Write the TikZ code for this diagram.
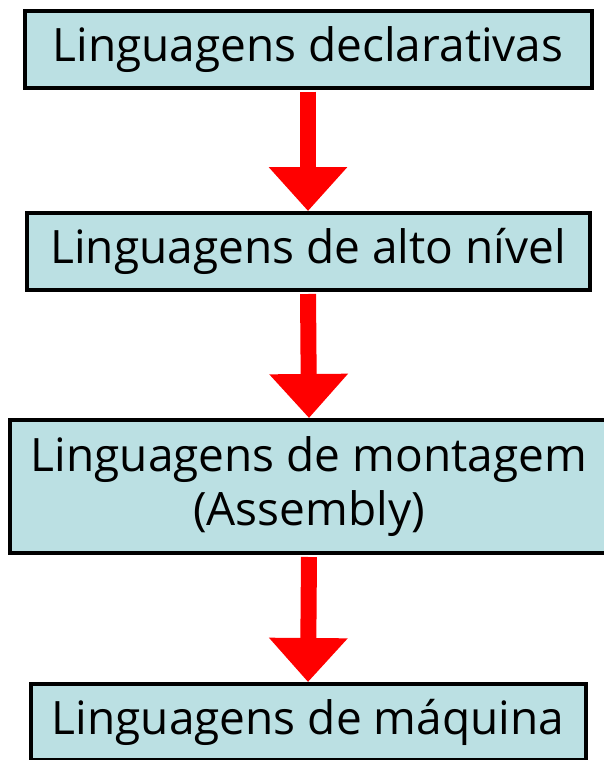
\documentclass[tikz,border=0pt]{standalone}
\usepackage{fontspec}
\newfontfamily\boxfont{Open Sans}
\usetikzlibrary{arrows.meta}
\definecolor{boxblue}{RGB}{187,224,227}
\definecolor{arrowred}{RGB}{255,0,0}
\tikzset{every picture/.style={/utils/exec={\boxfont}}}
\tikzset{
  level/.style={draw, line width=4pt, fill=boxblue, align=center,
    font=\fontsize{46}{54}\selectfont, inner sep=0pt},
  down/.style={draw=arrowred, line width=16pt, shorten <=2pt,
    -{Triangle[width=76pt, length=44pt]}}
}

\begin{document}
\begin{tikzpicture}[x=1pt, y=-1pt]
  \useasboundingbox (0,0) rectangle (604,760);

  \node [level, minimum width=567pt, minimum height=76pt] (decl) at (308, 49.5) {Linguagens declarativas};
  \node [level, minimum width=563pt, minimum height=77pt] (alto) at (308, 251.5) {Linguagens de alto nível};
  \node [level, minimum width=598pt, minimum height=133pt] (mont) at (309, 486.5) {Linguagens de montagem\\(Assembly)};
  \node [level, minimum width=555pt, minimum height=76pt] (maq) at (308, 722) {Linguagens de máquina};

  \draw [down] (decl.south) -- (alto.north);
  \draw [down] (alto.south) -- (mont.north);
  \draw [down] (mont.south) -- (maq.north);

\end{tikzpicture}
\end{document}
